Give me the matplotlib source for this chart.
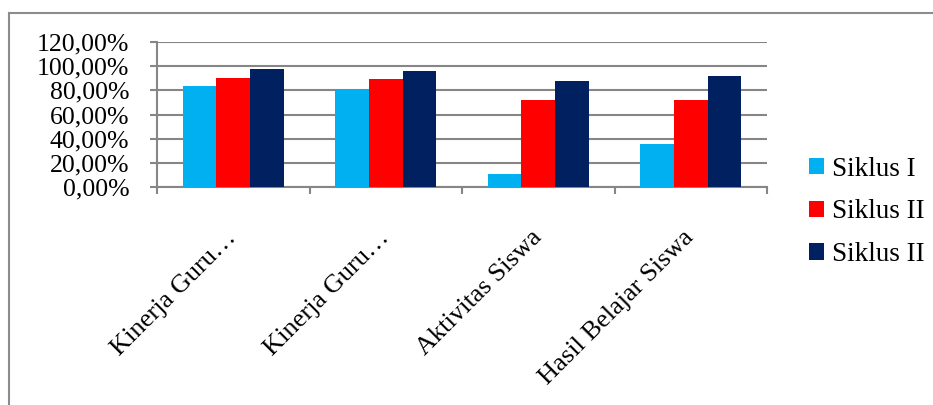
import matplotlib
matplotlib.use("Agg")
import matplotlib.pyplot as plt
from matplotlib.lines import Line2D
import numpy as np

categories = ["Kinerja Guru…", "Kinerja Guru…", "Aktivitas Siswa", "Hasil Belajar Siswa"]
series_names = ["Siklus I", "Siklus II", "Siklus II"]
siklus1 = [83.2, 81.0, 11.3, 35.7]
siklus2 = [90.4, 89.3, 71.7, 71.7]
siklus3 = [97.5, 95.6, 87.9, 91.8]
yticks = [0, 20, 40, 60, 80, 100, 120]
colors = ["#00B0F0", "#FF0000", "#002060"]

plt.rcParams['font.family'] = ['Liberation Serif', 'DejaVu Serif']

W, H = 933, 405
fig = plt.figure(figsize=(W / 100, H / 100), dpi=100)
ax = fig.add_axes([157 / W, 1 - 187.3 / H, (767 - 157) / W, (187.3 - 41.7) / H])

x = np.arange(len(categories))
bw = 0.22
series = [siklus1, siklus2, siklus3]
for i, (vals, name, c) in enumerate(zip(series, series_names, colors)):
    ax.bar(x + (i - 1) * bw, vals, width=bw, color=c, label=name, zorder=3)

grid_c = "#868686"
ax.set_ylim(0, 120)
ax.set_xlim(-0.5, len(categories) - 0.5)
ax.set_yticks(yticks)
ax.set_yticklabels([f"{v:.2f}".replace('.', ',') + "%" for v in yticks], fontsize=18.5)
ax.yaxis.grid(True, color=grid_c, linewidth=1.5, zorder=0)
ax.set_axisbelow(True)

ax.set_xticks(np.arange(len(categories) + 1) - 0.5)
ax.set_xticklabels([])
ax.set_xticks(x, minor=True)
ax.set_xticklabels(categories, minor=True, fontsize=19, rotation=45,
                   ha='right', va='center', rotation_mode='anchor')
ax.tick_params(axis='x', which='minor', length=0, pad=34)
ax.tick_params(axis='x', which='major', length=5, width=1.5, color=grid_c)
ax.tick_params(axis='y', length=5, width=1.5, color=grid_c, pad=15)

for s in ['top', 'right']:
    ax.spines[s].set_visible(False)
for s in ['left', 'bottom']:
    ax.spines[s].set_color(grid_c)
    ax.spines[s].set_linewidth(1.5)

handles, labels = ax.get_legend_handles_labels()
leg = fig.legend(handles, labels, loc='center left', bbox_to_anchor=(809 / W, 1 - 212 / H),
                 frameon=False, fontsize=19.5, handlelength=0.55, handleheight=0.55,
                 handletextpad=0.3, labelspacing=0.65, borderpad=0, borderaxespad=0)

# outer chart border
fig.add_artist(Line2D([8.5 / W, 1], [1 - 12.5 / H, 1 - 12.5 / H], color="#8C8C8C", linewidth=1.5))
fig.add_artist(Line2D([8.5 / W, 8.5 / W], [0, 1 - 12.5 / H], color="#8C8C8C", linewidth=1.5))

fig.savefig("out.png", dpi=100)
